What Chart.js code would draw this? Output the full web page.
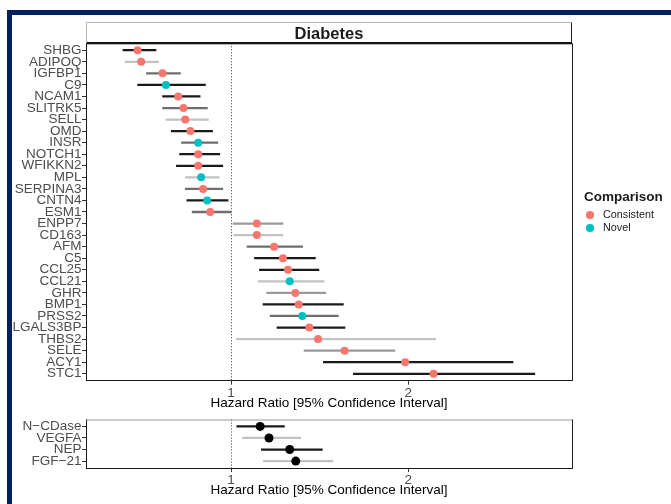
<!DOCTYPE html>
<html lang="en">
<head>
<meta charset="UTF-8">
<title>Diabetes - Hazard Ratios</title>
<script src="https://cdn.jsdelivr.net/npm/chart.js"></script>
<style>
  body { margin: 0; background: #fff; font-family: "Liberation Sans", Arial, sans-serif; }
  #wrap { position: relative; width: 671px; height: 504px; overflow: hidden; background: #fff; }
  .frame { position: absolute; left: 7px; top: 10px; width: 720px; height: 560px; border: 5px solid #002060; box-sizing: border-box; }
  canvas { position: absolute; left: 0; top: 0; }
  .strip { position: absolute; left: 86px; top: 22px; width: 486px; height: 22px; box-sizing: border-box;
           border: 1px solid #b5b5b5; border-right-color: #222; border-bottom: 2px solid #111;
           text-align: center; font-weight: bold; font-size: 16.5px; line-height: 20px; color: #1a1a1a; }
  .legend { position: absolute; left: 584px; top: 189px; color: #1a1a1a; }
  .legend .lt { font-weight: bold; font-size: 13.5px; line-height: 16px; margin-bottom: 3px; }
  .legend .li { font-size: 10.8px; line-height: 13.3px; position: relative; padding-left: 19px; }
  .legend .dot { position: absolute; left: 2px; top: 3px; width: 7.5px; height: 7.5px; border-radius: 50%; }
</style>
</head>
<body>
<div id="wrap">
  <div class="frame"></div>
  <canvas id="topChart" width="671" height="504"></canvas>
  <canvas id="bottomChart" width="671" height="504"></canvas>
  <div class="strip">Diabetes</div>
  <div class="legend">
    <div class="lt">Comparison</div>
    <div class="li"><span class="dot" style="background:#F8766D"></span>Consistent</div>
    <div class="li"><span class="dot" style="background:#00BFC4"></span>Novel</div>
  </div>
</div>

<script>
// upper panel: proteins, hazard ratio and 95% CI
const genes = ['SHBG', 'ADIPOQ', 'IGFBP1', 'C9', 'NCAM1', 'SLITRK5', 'SELL', 'OMD', 'INSR', 'NOTCH1',
  'WFIKKN2', 'MPL', 'SERPINA3', 'CNTN4', 'ESM1', 'ENPP7', 'CD163', 'AFM', 'C5', 'CCL25',
  'CCL21', 'GHR', 'BMP1', 'PRSS2', 'LGALS3BP', 'THBS2', 'SELE', 'ACY1', 'STC1'];
const hr = [0.472, 0.492, 0.613, 0.632, 0.701, 0.731, 0.741, 0.770, 0.814, 0.814,
  0.814, 0.831, 0.842, 0.865, 0.882, 1.145, 1.145, 1.243, 1.293, 1.321,
  1.331, 1.363, 1.382, 1.402, 1.442, 1.491, 1.641, 1.983, 2.143];
const ciLow = [0.389, 0.402, 0.522, 0.472, 0.613, 0.613, 0.632, 0.662, 0.720, 0.709,
  0.691, 0.742, 0.741, 0.750, 0.780, 1.011, 1.015, 1.090, 1.132, 1.160,
  1.152, 1.201, 1.180, 1.220, 1.259, 1.030, 1.412, 1.521, 1.690];
const ciHigh = [0.576, 0.590, 0.714, 0.855, 0.825, 0.866, 0.872, 0.895, 0.925, 0.936,
  0.953, 0.932, 0.953, 0.983, 1.000, 1.293, 1.293, 1.404, 1.476, 1.496,
  1.525, 1.534, 1.634, 1.605, 1.643, 2.155, 1.925, 2.592, 2.715];
const comparison = ['Consistent', 'Consistent', 'Consistent', 'Novel', 'Consistent', 'Consistent', 'Consistent', 'Consistent', 'Novel', 'Consistent',
  'Consistent', 'Novel', 'Consistent', 'Novel', 'Consistent', 'Consistent', 'Consistent', 'Consistent', 'Consistent', 'Consistent',
  'Novel', 'Consistent', 'Consistent', 'Novel', 'Consistent', 'Consistent', 'Consistent', 'Consistent', 'Consistent'];
// shade level of each CI line (0 = darkest)
const ciLevel = [0, 3, 1, 0, 0, 1, 3, 0, 1, 0,
  0, 3, 1, 0, 1, 2, 3, 1, 0, 0,
  3, 2, 0, 1, 0, 3, 2, 0, 0];

// lower panel
const markers = ['N\u2212CDase', 'VEGFA', 'NEP', 'FGF\u221221'];
const hr2 = [1.164, 1.214, 1.331, 1.365];
const ciLow2 = [1.032, 1.064, 1.171, 1.182];
const ciHigh2 = [1.301, 1.393, 1.515, 1.574];
const ciLevel2 = [0, 3, 0, 3];

const xTicks = [1, 2];
const xLimits = [0.1805, 2.925];
const refLine = 1;

const shades = ['#1a1a1a', '#6e6e6e', '#9a9a9a', '#c2c2c2'];
const groupColors = { Consistent: '#F8766D', Novel: '#00BFC4' };

// dotted reference line + panel box
const panelPlugin = {
  id: 'panel',
  beforeDatasetsDraw(chart) {
    const { ctx, chartArea: a, scales: { x } } = chart;
    const px = Math.round(x.getPixelForValue(refLine)) + 0.5;
    ctx.save();
    ctx.strokeStyle = '#333';
    ctx.lineWidth = 1;
    ctx.setLineDash([1, 2]);
    ctx.beginPath();
    ctx.moveTo(px, a.top);
    ctx.lineTo(px, a.bottom);
    ctx.stroke();
    ctx.restore();
  },
  afterDraw(chart, args, opts) {
    const { ctx, chartArea: a } = chart;
    ctx.save();
    ctx.lineWidth = 1;
    ctx.strokeStyle = opts.topColor || '#999';
    ctx.beginPath();
    ctx.moveTo(a.left, a.top + 0.5);
    ctx.lineTo(a.right, a.top + 0.5);
    ctx.stroke();
    ctx.strokeStyle = '#222';
    ctx.beginPath();
    ctx.moveTo(a.right + 0.5, a.top);
    ctx.lineTo(a.right + 0.5, a.bottom);
    ctx.stroke();
    ctx.restore();
  }
};

function forest(id, labels, est, lo, hi, level, pointSets, box) {
  const datasets = pointSets.map(ps => ({
    type: 'scatter',
    label: ps.name,
    data: ps.rows.map(i => ({ x: est[i], y: i })),
    backgroundColor: ps.color,
    borderWidth: 0,
    pointRadius: ps.r,
    pointHoverRadius: ps.r,
    order: 0
  }));
  datasets.push({
    type: 'bar',
    label: 'CI',
    indexAxis: 'y',
    data: labels.map((_, i) => ({ y: i, x: [lo[i], hi[i]] })),
    backgroundColor: level.map(l => shades[l]),
    barThickness: 1.6,
    borderWidth: 0,
    grouped: false,
    order: 1
  });

  const tickFont = { family: '"Liberation Sans", Arial, sans-serif', size: 13.5 };
  return new Chart(document.getElementById(id), {
    type: 'bar',
    data: { datasets },
    options: {
      responsive: false,
      animation: false,
      layout: { padding: { top: box.top, bottom: box.bottom, left: 0, right: 99 } },
      plugins: {
        legend: { display: false },
        tooltip: { enabled: false },
        panel: { topColor: box.topColor }
      },
      scales: {
        x: {
          type: 'linear',
          offset: false,
          beginAtZero: false,
          min: xLimits[0],
          max: xLimits[1],
          afterBuildTicks: s => { s.ticks = xTicks.map(v => ({ value: v })); },
          afterFit: s => { s.height = box.axisH; },
          grid: { offset: false, drawOnChartArea: false, tickLength: 4, color: '#333' },
          border: { color: '#1a1a1a', width: 1 },
          ticks: { color: '#4d4d4d', font: tickFont, padding: 0, maxRotation: 0 },
          title: {
            display: true,
            text: 'Hazard Ratio [95% Confidence Interval]',
            color: '#000',
            font: tickFont,
            padding: { top: 0, bottom: box.titlePad }
          }
        },
        y: {
          type: 'linear',
          offset: false,
          beginAtZero: false,
          reverse: true,
          min: -0.6,
          max: labels.length - 0.4,
          afterBuildTicks: s => { s.ticks = labels.map((_, i) => ({ value: i })); },
          afterFit: s => { s.width = 86; },
          grid: { offset: false, drawOnChartArea: false, tickLength: 4, color: '#333' },
          border: { color: '#1a1a1a', width: 1 },
          ticks: {
            callback: v => labels[v],
            autoSkip: false,
            color: '#4d4d4d',
            font: tickFont,
            padding: 0.5
          }
        }
      }
    },
    plugins: [panelPlugin]
  });
}

const rowsOf = g => comparison.map((c, i) => c === g ? i : -1).filter(i => i >= 0);

forest('topChart', genes, hr, ciLow, ciHigh, ciLevel, [
  { name: 'Consistent', color: groupColors.Consistent, r: 4, rows: rowsOf('Consistent') },
  { name: 'Novel', color: groupColors.Novel, r: 4, rows: rowsOf('Novel') }
], { top: 43.3, bottom: 89, axisH: 34.3, titlePad: 3.9, topColor: '#111' });

forest('bottomChart', markers, hr2, ciLow2, ciHigh2, ciLevel2, [
  { name: 'Marker', color: '#000', r: 4.5, rows: markers.map((_, i) => i) }
], { top: 419.5, bottom: 0, axisH: 36, titlePad: 5.2, topColor: '#999' });
</script>
</body>
</html>
